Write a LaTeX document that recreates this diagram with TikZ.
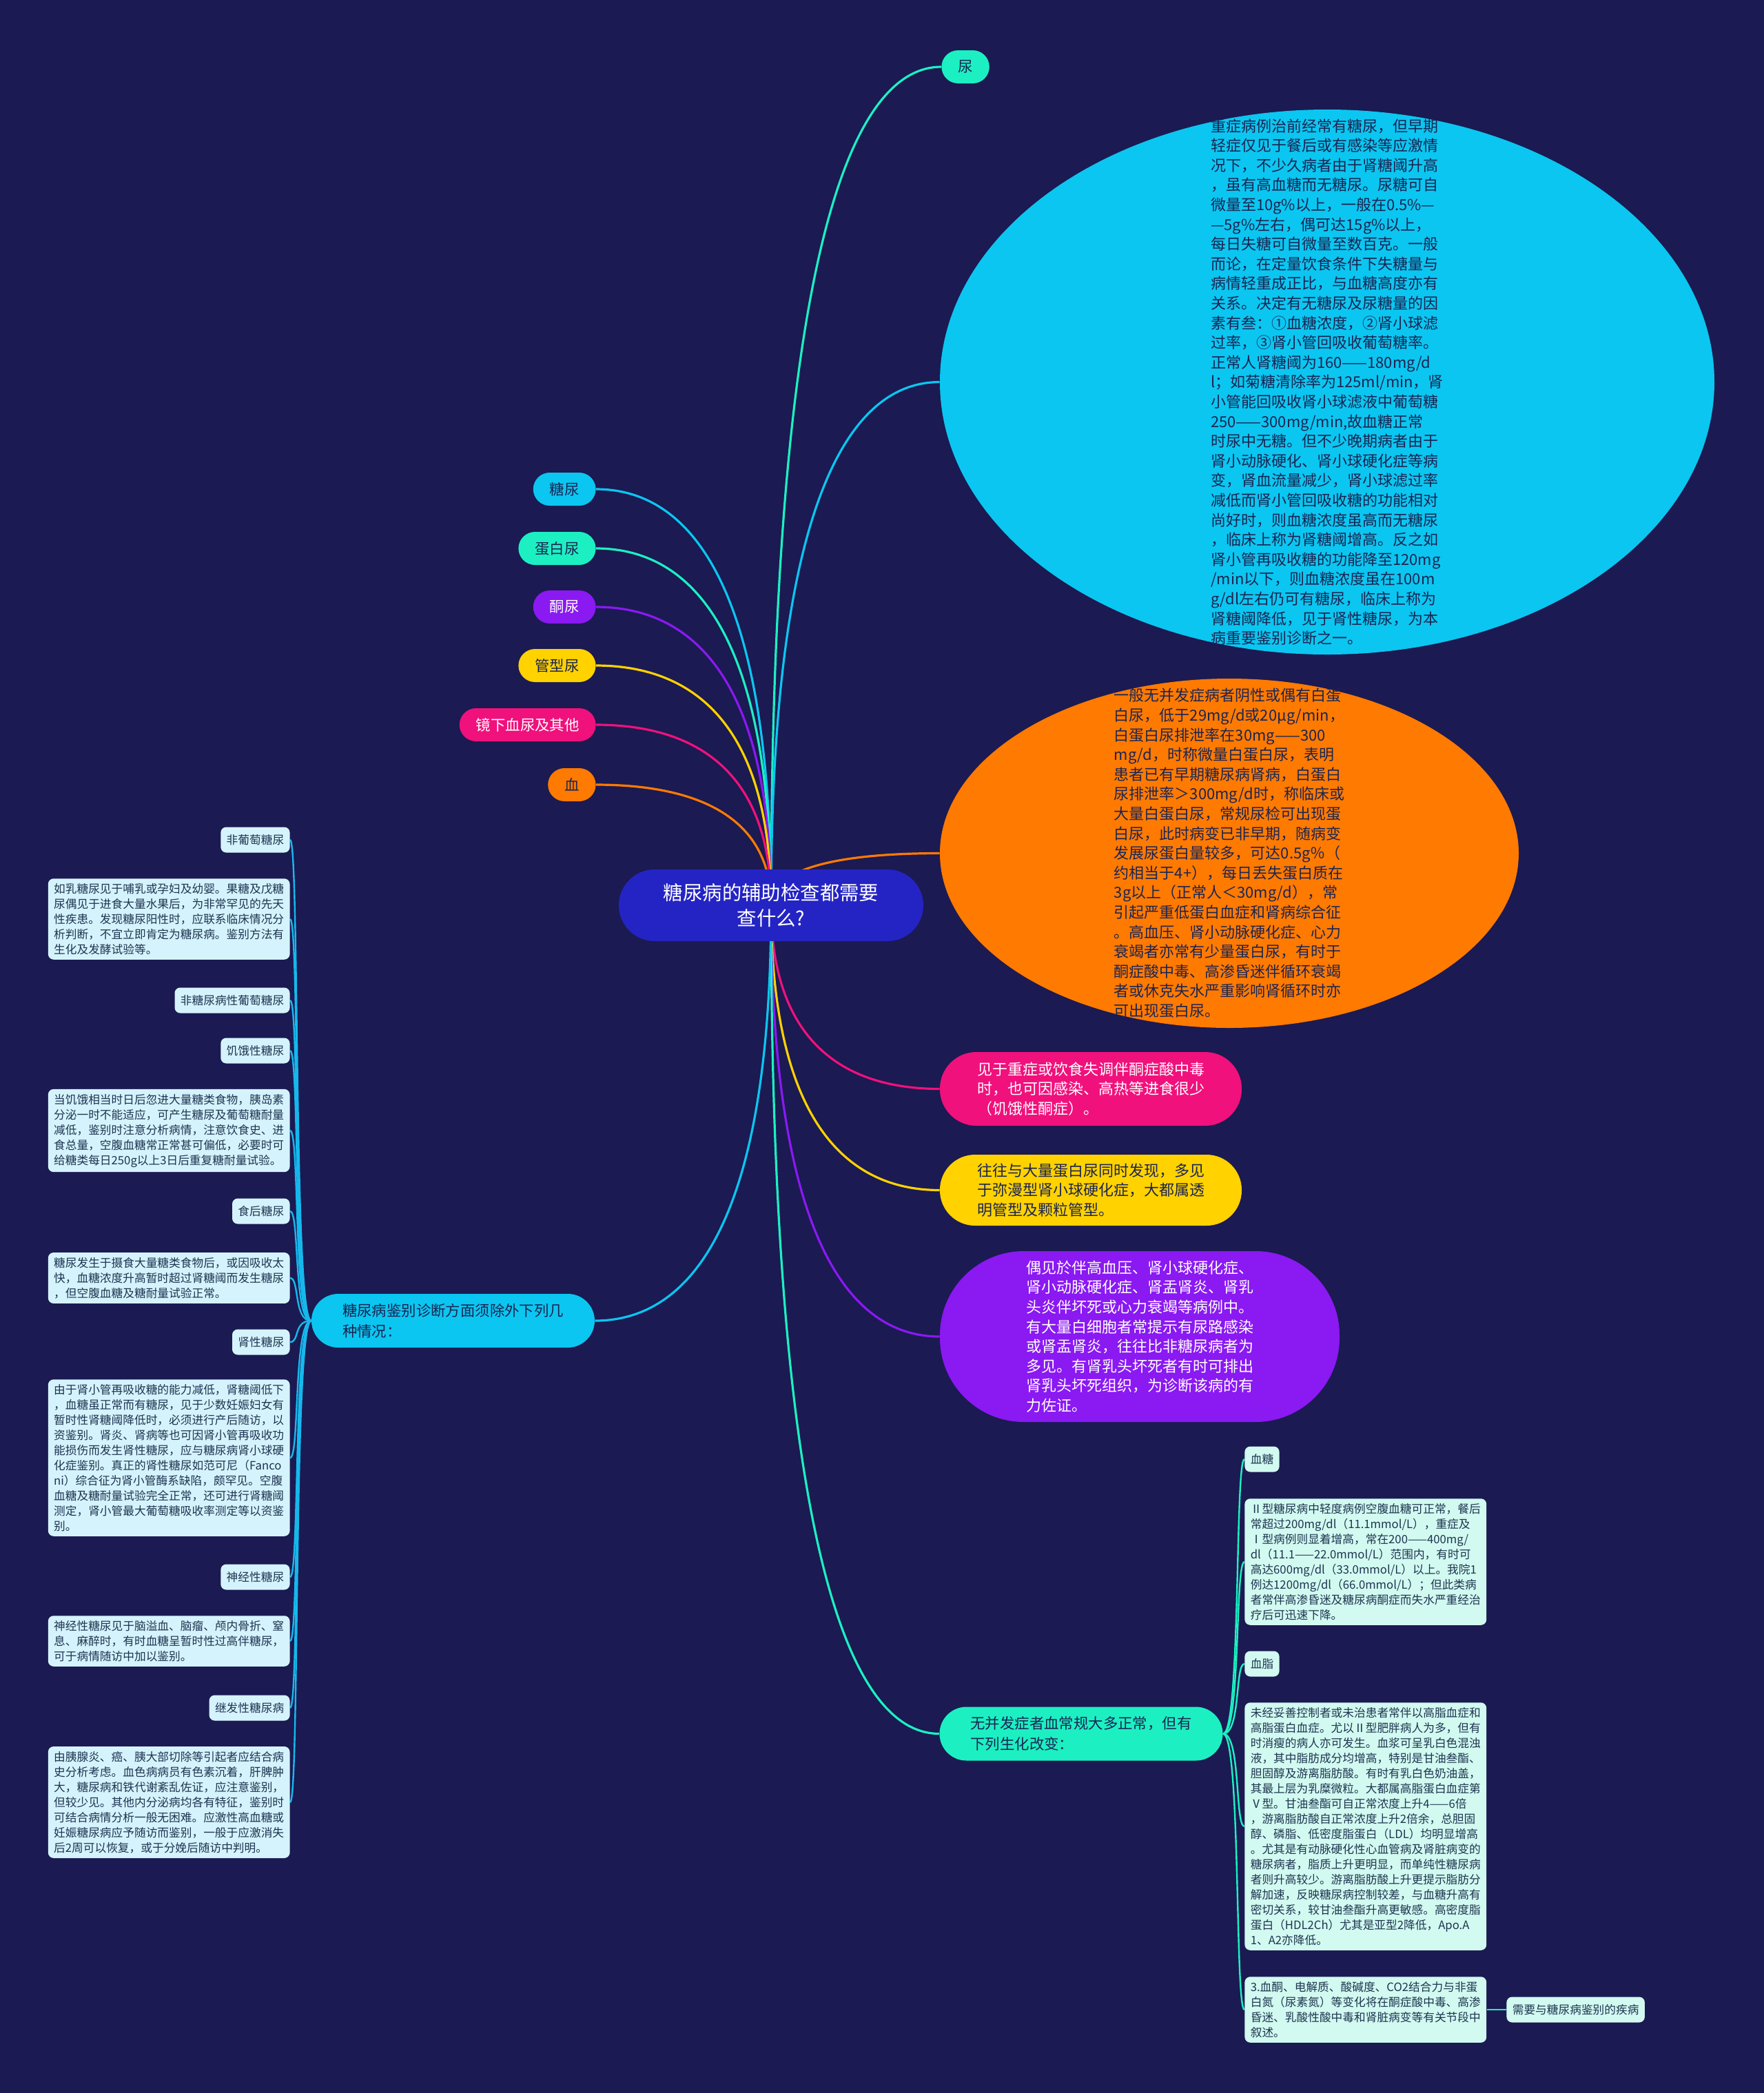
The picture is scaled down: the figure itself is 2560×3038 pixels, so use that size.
\documentclass[tikz,border=0pt]{standalone}
\usepackage{fontspec}
\setmainfont{Noto Sans CJK SC}
\usetikzlibrary{calc,shapes.geometric}
\pgfdeclarelayer{background}
\pgfsetlayers{background,main}
\definecolor{bgc}{HTML}{1B1A52}
\definecolor{rootblue}{HTML}{2424C4}
\definecolor{cyanc}{HTML}{0BC6F0}
\definecolor{tealc}{HTML}{1CF0C2}
\definecolor{purplec}{HTML}{8A19F2}
\definecolor{yellowc}{HTML}{FFD200}
\definecolor{pinkc}{HTML}{F0117C}
\definecolor{orangec}{HTML}{FF7A00}
\definecolor{lboxl}{HTML}{D5F3FC}
\definecolor{lboxr}{HTML}{D2FAF0}
\definecolor{darktext}{HTML}{1B2452}
\definecolor{boxtext}{HTML}{1E3450}
\definecolor{ltrunk}{HTML}{16B8EC}
\newcommand{\myfs}[2]{\fontsize{#1}{#2}\selectfont}
\newcommand{\rconn}[3]{\draw[conn,#1] (#2) .. controls ($(#2)!0.8!(#2 |- #3)$) and ($(#2 |- #3)!0.5!(#3)$) .. (#3);}
\newcommand{\ltr}[1]{\draw[trunkl] (jb.west) .. controls ($(jb.west)+(-26,0)$) and ($(#1.east)+(14,0)$) .. (#1.east);}
\newcommand{\rtr}[1]{\draw[trunkr] (wb.east) .. controls ($(wb.east)+(26,0)$) and ($(#1.west)+(-14,0)$) .. (#1.west);}
\tikzset{
  conn/.style={line width=1.6pt},
  trunkl/.style={line width=1.2pt, draw=ltrunk},
  trunkr/.style={line width=1.2pt, draw=tealc},
  rootn/.style={fill=rootblue, text=white, rounded corners=26pt, minimum width=221pt, minimum height=52pt, align=center, font={\myfs{14.2pt}{18.5pt}}, inner sep=0pt},
  lab/.style={rounded corners=12pt, minimum height=24pt, inner xsep=12pt, inner ysep=0pt, text=darktext, font={\myfs{10.7pt}{13pt}}},
  lvtwo/.style={rounded corners=19.5pt, minimum width=205.5pt, minimum height=39pt, align=left, text=darktext, font={\myfs{10.7pt}{15pt}}, inner sep=0pt},
  bigtxt/.style={align=left, font={\myfs{11pt}{14.3pt}}, inner sep=0pt},
  ellbox/.style={ellipse, inner sep=0pt},
  pill/.style={inner sep=0pt, align=left, font={\myfs{11pt}{14.3pt}}},
  sl/.style={fill=lboxl, rounded corners=4pt, text=boxtext, font={\myfs{8.35pt}{11pt}}, inner xsep=4.2pt, inner ysep=0pt, minimum height=18.5pt},
  sb/.style={fill=lboxl, rounded corners=4pt, text=boxtext, font={\myfs{8.35pt}{11pt}}, align=left, inner xsep=4.2pt, inner ysep=3.5pt},
}
\begin{document}
\begin{tikzpicture}[x=0.5pt,y=-0.5pt]
\useasboundingbox (0,0) rectangle (2560,3038);

% root
\node[rootn] (root) at (1119,1314) {糖尿病的辅助检查都需要\\查什么?};

% upper right
\node[lab, fill=tealc, anchor=west] (niao) at (1366,97) {尿};
\node[ellbox, fill=cyanc, minimum width=562pt, minimum height=395.5pt] (e1) at (1926,554.5) {};
\node[bigtxt, text=darktext] (e1t) at (e1.center) {重症病例治前经常有糖尿，但早期\\
轻症仅见于餐后或有感染等应激情\\
况下，不少久病者由于肾糖阈升高\\
，虽有高血糖而无糖尿。尿糖可自\\
微量至10g\%以上，一般在0.5\%—\\
—5g\%左右，偶可达15g\%以上，\\
每日失糖可自微量至数百克。一般\\
而论，在定量饮食条件下失糖量与\\
病情轻重成正比，与血糖高度亦有\\
关系。决定有无糖尿及尿糖量的因\\
素有叁：①血糖浓度，②肾小球滤\\
过率，③肾小管回吸收葡萄糖率。\\
正常人肾糖阈为160——180mg/d\\
l；如菊糖清除率为125ml/min，肾\\
小管能回吸收肾小球滤液中葡萄糖\\
250——300mg/min,故血糖正常\\
时尿中无糖。但不少晚期病者由于\\
肾小动脉硬化、肾小球硬化症等病\\
变，肾血流量减少，肾小球滤过率\\
减低而肾小管回吸收糖的功能相对\\
尚好时，则血糖浓度虽高而无糖尿\\
，临床上称为肾糖阈增高。反之如\\
肾小管再吸收糖的功能降至120mg\\
/min以下，则血糖浓度虽在100m\\
g/dl左右仍可有糖尿，临床上称为\\
肾糖阈降低，见于肾性糖尿，为本\\
病重要鉴别诊断之一。};

\node[ellbox, fill=orangec, minimum width=420pt, minimum height=253.5pt] (e2) at (1784,1238.5) {};
\node[bigtxt, text=darktext] (e2t) at (e2.center) {一般无并发症病者阴性或偶有白蛋\\
白尿，低于29mg/d或20μg/min，\\
白蛋白尿排泄率在30mg——300\\
mg/d，时称微量白蛋白尿，表明\\
患者已有早期糖尿病肾病，白蛋白\\
尿排泄率＞300mg/d时，称临床或\\
大量白蛋白尿，常规尿检可出现蛋\\
白尿，此时病变已非早期，随病变\\
发展尿蛋白量较多，可达0.5g％（\\
约相当于4+），每日丢失蛋白质在\\
3g以上（正常人＜30mg/d），常\\
引起严重低蛋白血症和肾病综合征\\
。高血压、肾小动脉硬化症、心力\\
衰竭者亦常有少量蛋白尿，有时于\\
酮症酸中毒、高渗昏迷伴循环衰竭\\
者或休克失水严重影响肾循环时亦\\
可出现蛋白尿。};

\node[pill, fill=pinkc, text=white, minimum width=219pt, minimum height=53.5pt, rounded corners=26.5pt] (pk) at (1583,1580.5) {见于重症或饮食失调伴酮症酸中毒\\时，也可因感染、高热等进食很少\\（饥饿性酮症）。};
\node[pill, fill=yellowc, text=darktext, minimum width=219pt, minimum height=51.5pt, rounded corners=25.5pt] (yl) at (1583,1727.5) {往往与大量蛋白尿同时发现，多见\\于弥漫型肾小球硬化症，大都属透\\明管型及颗粒管型。};
\node[pill, fill=purplec, text=white, minimum width=290pt, minimum height=124pt, rounded corners=61pt] (pp) at (1654,1940) {偶见於伴高血压、肾小球硬化症、\\
肾小动脉硬化症、肾盂肾炎、肾乳\\
头炎伴坏死或心力衰竭等病例中。\\
有大量白细胞者常提示有尿路感染\\
或肾盂肾炎，往往比非糖尿病者为\\
多见。有肾乳头坏死者有时可排出\\
肾乳头坏死组织，为诊断该病的有\\
力佐证。};

% upper left labels
\node[lab, fill=cyanc, anchor=east] (tn) at (865,710) {糖尿};
\node[lab, fill=tealc, anchor=east] (db) at (865,796) {蛋白尿};
\node[lab, fill=purplec, text=white, anchor=east] (tong) at (865,881) {酮尿};
\node[lab, fill=yellowc, anchor=east] (gx) at (865,966) {管型尿};
\node[lab, fill=pinkc, text=white, anchor=east] (jx) at (865,1052) {镜下血尿及其他};
\node[lab, fill=orangec, anchor=east] (xue) at (865,1139) {血};

% level two
\node[lvtwo, fill=cyanc] (jb) at (657.5,1917) {糖尿病鉴别诊断方面须除外下列几\\种情况：};
\node[lvtwo, fill=tealc] (wb) at (1569,2516.5) {无并发症者血常规大多正常，但有\\下列生化改变：};

% left children
\node[sl, anchor=east] (l1) at (421,1219) {非葡萄糖尿};
\node[sb, anchor=east] (t1) at (421,1334) {如乳糖尿见于哺乳或孕妇及幼婴。果糖及戊糖\\
尿偶见于进食大量水果后，为非常罕见的先天\\
性疾患。发现糖尿阳性时，应联系临床情况分\\
析判断，不宜立即肯定为糖尿病。鉴别方法有\\
生化及发酵试验等。};
\node[sl, anchor=east] (l2) at (421,1452) {非糖尿病性葡萄糖尿};
\node[sl, anchor=east] (l3) at (421,1525) {饥饿性糖尿};
\node[sb, anchor=east] (t2) at (421,1641) {当饥饿相当时日后忽进大量糖类食物，胰岛素\\
分泌一时不能适应，可产生糖尿及葡萄糖耐量\\
减低，鉴别时注意分析病情，注意饮食史、进\\
食总量，空腹血糖常正常甚可偏低，必要时可\\
给糖类每日250g以上3日后重复糖耐量试验。};
\node[sl, anchor=east] (l4) at (421,1758) {食后糖尿};
\node[sb, anchor=east] (t3) at (421,1855) {糖尿发生于摄食大量糖类食物后，或因吸收太\\
快，血糖浓度升高暂时超过肾糖阈而发生糖尿\\
，但空腹血糖及糖耐量试验正常。};
\node[sl, anchor=east] (l5) at (421,1948) {肾性糖尿};
\node[sb, anchor=east] (t4) at (421,2116) {由于肾小管再吸收糖的能力减低，肾糖阈低下\\
，血糖虽正常而有糖尿，见于少数妊娠妇女有\\
暂时性肾糖阈降低时，必须进行产后随访，以\\
资鉴别。肾炎、肾病等也可因肾小管再吸收功\\
能损伤而发生肾性糖尿，应与糖尿病肾小球硬\\
化症鉴别。真正的肾性糖尿如范可尼（Fanco\\
ni）综合征为肾小管酶系缺陷，颇罕见。空腹\\
血糖及糖耐量试验完全正常，还可进行肾糖阈\\
测定，肾小管最大葡萄糖吸收率测定等以资鉴\\
别。};
\node[sl, anchor=east] (l6) at (421,2289) {神经性糖尿};
\node[sb, anchor=east] (t5) at (421,2382) {神经性糖尿见于脑溢血、脑瘤、颅内骨折、窒\\
息、麻醉时，有时血糖呈暂时性过高伴糖尿，\\
可于病情随访中加以鉴别。};
\node[sl, anchor=east] (l7) at (421,2479) {继发性糖尿病};
\node[sb, anchor=east] (t6) at (421,2616) {由胰腺炎、癌、胰大部切除等引起者应结合病\\
史分析考虑。血色病病员有色素沉着，肝脾肿\\
大，糖尿病和铁代谢紊乱佐证，应注意鉴别，\\
但较少见。其他内分泌病均各有特征，鉴别时\\
可结合病情分析一般无困难。应激性高血糖或\\
妊娠糖尿病应予随访而鉴别，一般于应激消失\\
后2周可以恢复，或于分娩后随访中判明。};

% right children
\node[sl, fill=lboxr, anchor=west] (r1) at (1806,2118) {血糖};
\node[sb, fill=lboxr, anchor=west] (ra) at (1806,2267) {Ⅱ型糖尿病中轻度病例空腹血糖可正常，餐后\\
常超过200mg/dl（11.1mmol/L），重症及\\
Ⅰ型病例则显着增高，常在200——400mg/\\
dl（11.1——22.0mmol/L）范围内，有时可\\
高达600mg/dl（33.0mmol/L）以上。我院1\\
例达1200mg/dl（66.0mmol/L）；但此类病\\
者常伴高渗昏迷及糖尿病酮症而失水严重经治\\
疗后可迅速下降。};
\node[sl, fill=lboxr, anchor=west] (r2) at (1806,2415) {血脂};
\node[sb, fill=lboxr, anchor=west] (rb) at (1806,2651) {未经妥善控制者或未治患者常伴以高脂血症和\\
高脂蛋白血症。尤以Ⅱ型肥胖病人为多，但有\\
时消瘦的病人亦可发生。血浆可呈乳白色混浊\\
液，其中脂肪成分均增高，特别是甘油叁酯、\\
胆固醇及游离脂肪酸。有时有乳白色奶油盖，\\
其最上层为乳糜微粒。大都属高脂蛋白血症第\\
Ⅴ型。甘油叁酯可自正常浓度上升4——6倍\\
，游离脂肪酸自正常浓度上升2倍余，总胆固\\
醇、磷脂、低密度脂蛋白（LDL）均明显增高\\
。尤其是有动脉硬化性心血管病及肾脏病变的\\
糖尿病者，脂质上升更明显，而单纯性糖尿病\\
者则升高较少。游离脂肪酸上升更提示脂肪分\\
解加速，反映糖尿病控制较差，与血糖升高有\\
密切关系，较甘油叁酯升高更敏感。高密度脂\\
蛋白（HDL2Ch）尤其是亚型2降低，Apo.A\\
1、A2亦降低。};
\node[sb, fill=lboxr, anchor=west] (rc) at (1806,2917) {3.血酮、电解质、酸碱度、CO2结合力与非蛋\\
白氮（尿素氮）等变化将在酮症酸中毒、高渗\\
昏迷、乳酸性酸中毒和肾脏病变等有关节段中\\
叙述。};
\node[sl, fill=lboxr, anchor=west] (rd) at (2186,2917) {需要与糖尿病鉴别的疾病};

\begin{pgfonlayer}{background}
\fill[bgc] (0,0) rectangle (2560,3038);
\rconn{draw=tealc}{root.center}{niao.west}
\rconn{draw=cyanc}{root.center}{e1.west}
\rconn{draw=orangec}{root.center}{e2.west}
\rconn{draw=pinkc}{root.center}{pk.west}
\rconn{draw=yellowc}{root.center}{yl.west}
\rconn{draw=purplec}{root.center}{pp.west}
\rconn{draw=tealc}{root.center}{wb.west}
\rconn{draw=cyanc}{root.center}{jb.east}
\rconn{draw=cyanc}{root.center}{tn.east}
\rconn{draw=tealc}{root.center}{db.east}
\rconn{draw=purplec}{root.center}{tong.east}
\rconn{draw=yellowc}{root.center}{gx.east}
\rconn{draw=pinkc}{root.center}{jx.east}
\rconn{draw=orangec}{root.center}{xue.east}
\ltr{l1}\ltr{t1}\ltr{l2}\ltr{l3}\ltr{t2}\ltr{l4}\ltr{t3}
\ltr{l5}\ltr{t4}\ltr{l6}\ltr{t5}\ltr{l7}\ltr{t6}
\rtr{r1}\rtr{ra}\rtr{r2}\rtr{rb}\rtr{rc}
\draw[trunkr] (rc.east) -- (rd.west);
\end{pgfonlayer}
\end{tikzpicture}
\end{document}
